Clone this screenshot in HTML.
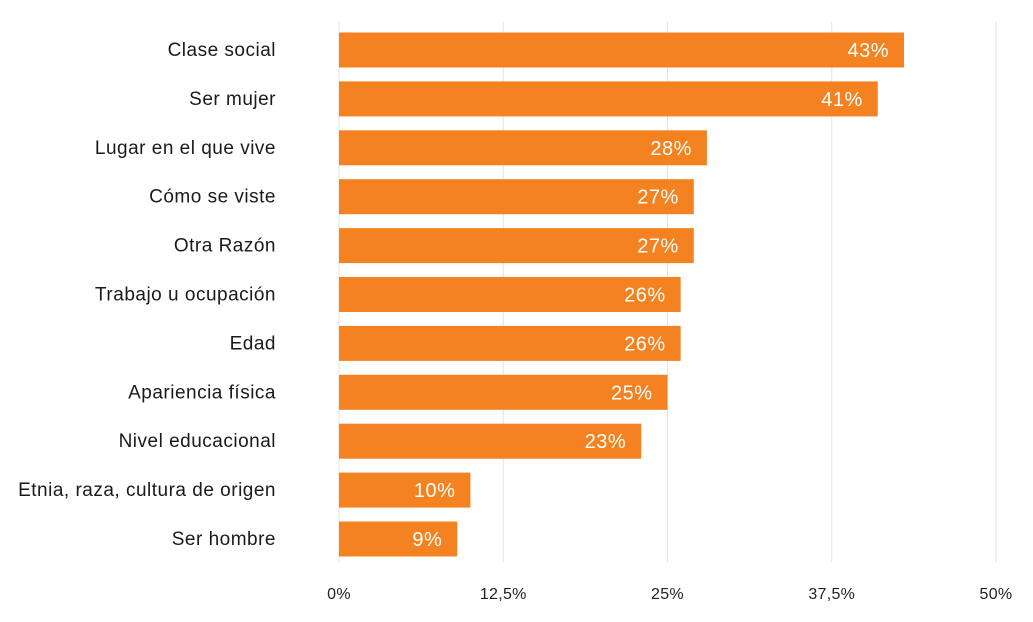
<!DOCTYPE html>
<html><head><meta charset="utf-8">
<style>
html,body{margin:0;padding:0;background:#fff;width:1033px;height:622px;overflow:hidden}
svg{display:block;font-family:"Liberation Sans",sans-serif}
</style></head>
<body>
<svg id="chart" width="1033" height="622" xmlns="http://www.w3.org/2000/svg"></svg>
<script>
const categories = ["Clase social","Ser mujer","Lugar en el que vive","Cómo se viste","Otra Razón","Trabajo u ocupación","Edad","Apariencia física","Nivel educacional","Etnia, raza, cultura de origen","Ser hombre"];
const values = [43,41,28,27,27,26,26,25,23,10,9];
const ticks = [0,12.5,25,37.5,50];
const tickLabels = ["0%","12,5%","25%","37,5%","50%"];

const NS = "http://www.w3.org/2000/svg";
const svg = document.getElementById("chart");
const x0 = 339, x1 = 996, xmax = 50;
function xScale(v){ return x0 + (x1 - x0) * v / xmax; }
function yCenter(i){ return 50 + 48.9 * i; }
const barH = 35;

function mk(tag, attrs){ const e = document.createElementNS(NS, tag); for (const k in attrs) e.setAttribute(k, attrs[k]); svg.appendChild(e); return e; }

ticks.forEach((t, i) => {
  const g = mk("line", {x1: xScale(t), x2: xScale(t), y1: 22, y2: 562, stroke: "#e3e3e3", "stroke-width": 1});
  
  
  const tl = mk("text", {x: xScale(t), y: 599, "text-anchor": "middle", "font-size": 16, "letter-spacing": 0.3, fill: "#222"});
  tl.textContent = tickLabels[i];
  
  
});

categories.forEach((c, i) => {
  const cy = yCenter(i);
  const r = mk("rect", {x: x0, y: cy - barH/2, width: xScale(values[i]) - x0, height: barH, fill: "#F58220"});
  
  
  const v = mk("text", {x: xScale(values[i]) - 15, y: cy + 7, "text-anchor": "end", "font-size": 20, "letter-spacing": 0.5, fill: "#fff"});
  v.textContent = values[i] + "%";
  
  
  const l = mk("text", {x: 276, y: cy + 6, "text-anchor": "end", "font-size": 19, "letter-spacing": 0.5, fill: "#1a1a1a"});
  l.textContent = c;
  
  
});
</script>
</body></html>
